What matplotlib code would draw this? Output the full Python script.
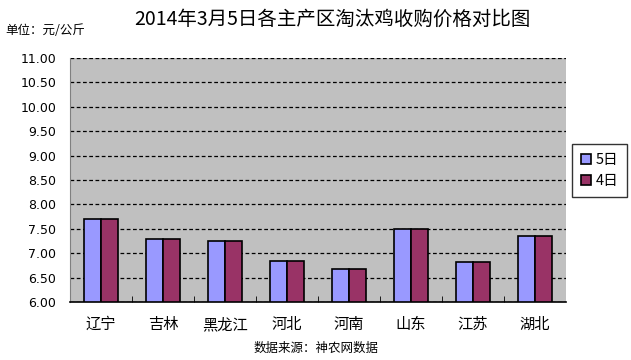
import numpy as np
import matplotlib.pyplot as plt

plt.rcParams['font.family'] = ['Noto Sans CJK SC', 'DejaVu Sans']

# data
regions = ['辽宁', '吉林', '黑龙江', '河北', '河南', '山东', '江苏', '湖北']
price_5 = [7.70, 7.30, 7.25, 6.84, 6.68, 7.50, 6.82, 7.36]
price_4 = [7.70, 7.30, 7.25, 6.84, 6.68, 7.50, 6.82, 7.36]
yticks = np.arange(6.0, 11.01, 0.5)

fig = plt.figure(figsize=(6.31, 3.6), dpi=100)
ax = fig.add_axes([70/631, 1-302/360, 496/631, 244/360])
ax.set_facecolor('#C0C0C0')

x = np.arange(len(regions))
w = 0.275
b1 = ax.bar(x - w/2, np.array(price_5) - 6, w, bottom=6, color='#9999FF',
            edgecolor='black', linewidth=1.2, label='5日', zorder=3)
b2 = ax.bar(x + w/2, np.array(price_4) - 6, w, bottom=6, color='#993366',
            edgecolor='black', linewidth=1.2, label='4日', zorder=3)

ax.set_xlim(-0.5, len(regions) - 0.5)
ax.set_ylim(6, 11)
ax.set_yticks(yticks)
ax.set_yticklabels(['%.2f' % v for v in yticks], fontsize=9, family='DejaVu Sans')
ax.yaxis.grid(True, color='black', linestyle=(0, (3, 2)), linewidth=0.9, zorder=1)
ax.tick_params(axis='y', length=0, pad=10)

ax.set_xticks(x)
ax.set_xticklabels(regions, fontsize=11)
ax.set_xticks(np.arange(0.5, len(regions) - 0.5, 1), minor=True)
ax.tick_params(axis='x', which='major', length=0, pad=10)
ax.tick_params(axis='x', which='minor', direction='in', length=4, color='black')

for s in ['top', 'right']:
    ax.spines[s].set_visible(False)
ax.spines['left'].set_color('#808080')
ax.spines['bottom'].set_color('black')
ax.spines['bottom'].set_linewidth(1.2)

leg = fig.legend(handles=[b1, b2], loc='upper left',
                 bbox_to_anchor=(572/631, 1-144/360), borderaxespad=0,
                 fontsize=10.5, frameon=True, fancybox=False, edgecolor='black',
                 handlelength=0.7, handleheight=0.7, handletextpad=0.3,
                 borderpad=0.6, labelspacing=0.5)
leg.get_frame().set_linewidth(1.0)

fig.text(332/631, 1-19/360, '2014年3月5日各主产区淘汰鸡收购价格对比图',
         ha='center', va='center', fontsize=14)
fig.text(5/631, 1-31/360, '单位：元/公斤', ha='left', va='center', fontsize=9)
fig.text(316/631, 1-348/360, '数据来源：神农网数据', ha='center', va='center', fontsize=9)

fig.savefig('out.png', dpi=100)
